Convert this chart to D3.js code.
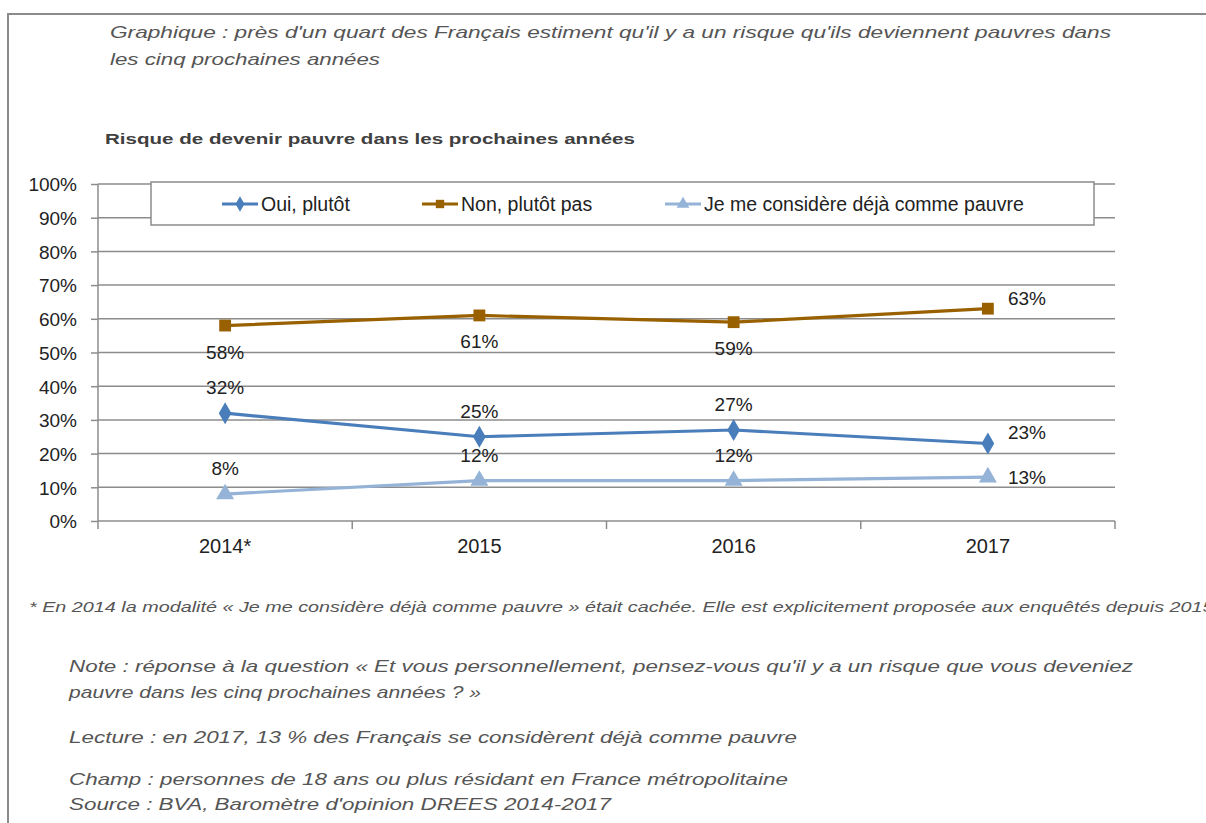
<!DOCTYPE html>
<html><head><meta charset="utf-8">
<script src="https://cdn.jsdelivr.net/npm/d3@7"></script>
<style>
html,body{margin:0;padding:0;background:#fff;}
svg{display:block;}
text{font-family:"Liberation Sans",Arial,sans-serif;}
</style></head>
<body>
<svg id="c" width="1206" height="823"></svg>
<script>
const years = ["2014*", "2015", "2016", "2017"];
const ouiValues = [32, 25, 27, 23];
const nonValues = [58, 61, 59, 63];
const pauvreValues = [8, 12, 12, 13];
const seriesNames = ["Oui, plutôt", "Non, plutôt pas", "Je me considère déjà comme pauvre"];
const yTicks = [0, 10, 20, 30, 40, 50, 60, 70, 80, 90, 100];

(function () {
const svg = d3.select("#c");
const pL = 98, pR = 1115, pT = 184, pB = 521;
const x = d3.scaleBand().domain(years).range([pL, pR]);
const y = d3.scaleLinear().domain([0, 100]).range([pB, pT]);
const FONT = "Liberation Sans, Arial, sans-serif";

// frame
svg.append("path").attr("d", "M8,830 L8,14 L1206,14").attr("fill", "none").attr("stroke", "#8a8a8a").attr("stroke-width", 2);

function txt(s, xx, yy, opts) {
  const t = svg.append("text").attr("x", xx).attr("y", yy).text(s)
    .attr("font-size", opts.size).attr("fill", opts.fill || "#555")
    .attr("font-style", opts.italic ? "italic" : "normal")
    .attr("font-weight", opts.bold ? "bold" : "normal");
  if (opts.len) t.attr("textLength", opts.len).attr("lengthAdjust", "spacingAndGlyphs");
  return t;
}
txt("Graphique : près d'un quart des Français estiment qu'il y a un risque qu'ils deviennent pauvres dans", 110, 38, {size: 16.5, italic: true, len: 1001});
txt("les cinq prochaines années", 110, 65, {size: 16.5, italic: true, len: 270});
txt("Risque de devenir pauvre dans les prochaines années", 105, 144, {size: 15, bold: true, fill: "#404040", len: 530});

// gridlines
svg.append("g").selectAll("line").data(yTicks.filter(d => d > 0)).join("line")
  .attr("x1", pL).attr("x2", pR).attr("y1", d => y(d)).attr("y2", d => y(d))
  .attr("stroke", "#8c8c8c").attr("stroke-width", 1.5);

// y axis
const yAxis = d3.axisLeft(y).tickValues(yTicks).tickFormat(d => d + "%").tickSize(7).tickPadding(14);
const gy = svg.append("g").attr("transform", `translate(${pL},0)`).call(yAxis);
gy.select(".domain").attr("stroke", "#8c8c8c").attr("stroke-width", 1.5).attr("d", `M0,${pT}V${pB}`);
gy.selectAll(".tick line").attr("stroke", "#8c8c8c").attr("stroke-width", 1.5);
gy.selectAll(".tick text").attr("font-size", 19).attr("fill", "#222").attr("font-family", FONT).attr("dy", "0.36em");

// x axis
const gx = svg.append("g").attr("transform", `translate(0,${pB})`)
  .call(d3.axisBottom(x).tickSize(0).tickPadding(18));
gx.select(".domain").remove();
gx.selectAll(".tick text").attr("font-size", 20).attr("fill", "#222").attr("font-family", FONT);
const boundaries = [pL].concat(years.map(d => x(d) + x.bandwidth()));
svg.append("g").selectAll("line").data(boundaries).join("line")
  .attr("x1", d => d).attr("x2", d => d).attr("y1", pB).attr("y2", pB + 8)
  .attr("stroke", "#8c8c8c").attr("stroke-width", 1.5);
svg.append("line").attr("x1", pL).attr("x2", pR).attr("y1", pB).attr("y2", pB)
  .attr("stroke", "#8c8c8c").attr("stroke-width", 1.5);

// series
const cx = d => x(d) + x.bandwidth() / 2;
const series = [
  {name: seriesNames[0], values: ouiValues, color: "#4a7ebb", symbol: d3.symbolDiamond, size: 140,
   place: ["up", "up", "up", "right"]},
  {name: seriesNames[1], values: nonValues, color: "#996000", symbol: d3.symbolSquare, size: 140,
   place: ["down", "down", "down", "right"]},
  {name: seriesNames[2], values: pauvreValues, color: "#95b3d7", symbol: d3.symbolTriangle, size: 140,
   place: ["up", "up", "up", "rightmid"]}
];
const line = d3.line().x(d => cx(d.year)).y(d => y(d.v));
const labelY = d => d.place === "up" ? y(d.v) - 19 : d.place === "down" ? y(d.v) + 33 : d.place === "right" ? y(d.v) - 4 : y(d.v) + 7;
series.forEach(s => {
  const pts = years.map((yr, i) => ({year: yr, v: s.values[i], place: s.place[i]}));
  svg.append("path").datum(pts).attr("d", line).attr("fill", "none")
    .attr("stroke", s.color).attr("stroke-width", 3.2).attr("stroke-linejoin", "round");
  svg.append("g").selectAll("path").data(pts).join("path")
    .attr("d", d3.symbol().type(s.symbol).size(s.size))
    .attr("transform", d => `translate(${cx(d.year)},${y(d.v)})`)
    .attr("fill", s.color);
  svg.append("g").selectAll("text").data(pts).join("text")
    .attr("x", d => d.place.startsWith("right") ? cx(d.year) + 20 : cx(d.year))
    .attr("y", labelY)
    .attr("text-anchor", d => d.place.startsWith("right") ? "start" : "middle")
    .attr("font-size", 19).attr("fill", "#222")
    .text(d => d.v + "%");
});

// legend
svg.append("rect").attr("x", 151).attr("y", 182).attr("width", 943).attr("height", 43)
  .attr("fill", "#fff").attr("stroke", "#8c8c8c").attr("stroke-width", 1.5);
const legX = [222, 422, 665];
series.forEach((s, i) => {
  const g = svg.append("g").attr("transform", `translate(${legX[i]},204)`);
  g.append("line").attr("x1", 0).attr("x2", 36).attr("y1", 0).attr("y2", 0).attr("stroke", s.color).attr("stroke-width", 3);
  g.append("path").attr("d", d3.symbol().type(s.symbol).size(70)).attr("transform", "translate(18,0)").attr("fill", s.color);
  g.append("text").attr("x", 39).attr("y", 7).attr("font-size", 19.5).attr("fill", "#222").text(s.name);
});

// footnotes
txt("* En 2014 la modalité « Je me considère déjà comme pauvre » était cachée. Elle est explicitement proposée aux enquêtés depuis 2015.", 29, 612, {size: 15, italic: true, len: 1190});
txt("Note : réponse à la question « Et vous personnellement, pensez-vous qu'il y a un risque que vous deveniez", 69, 672, {size: 16.5, italic: true, len: 1064});
txt("pauvre dans les cinq prochaines années ? »", 69, 698, {size: 16.5, italic: true, len: 412});
txt("Lecture : en 2017, 13 % des Français se considèrent déjà comme pauvre", 69, 743, {size: 16.5, italic: true, len: 728});
txt("Champ : personnes de 18 ans ou plus résidant en France métropolitaine", 69, 785, {size: 16.5, italic: true, len: 719});
txt("Source : BVA, Baromètre d'opinion DREES 2014-2017", 69, 810, {size: 16.5, italic: true, len: 542});
})();
</script>
</body></html>
